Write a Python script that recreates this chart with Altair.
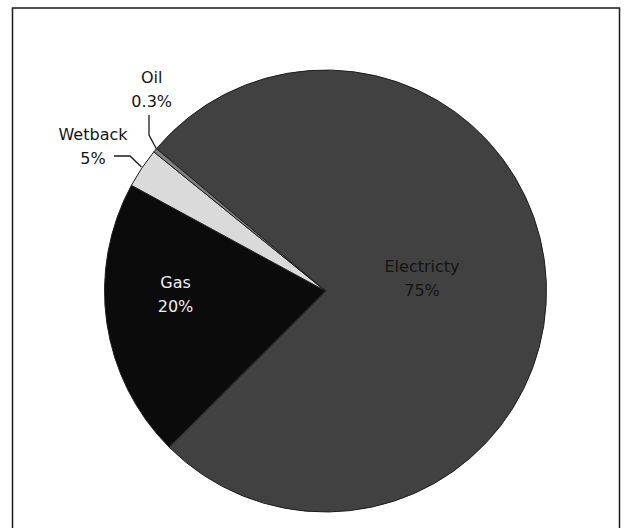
import math
import altair as alt
import pandas as pd

# ---- data ----
sources = ["Electricty", "Gas", "Wetback", "Oil"]
shares = [76.3, 20.4, 2.9, 0.3]          # slice sizes as drawn
share_labels = ["75%", "20%", "5%", "0.3%"]  # label text as printed
colors = ["#414141", "#0b0b0b", "#dadada", "#808080"]

pie = pd.DataFrame({
    "source": sources,
    "share": shares,
    "idx": list(range(len(sources))),
})

# ---- annotation layout (pixel positions of labels / leader lines) ----
label_x = [422, 175.5, 93, 151.7]
label_y = [267, 283, 135, 78]
label_col = ["#141414", "#eeeeee", "#141414", "#141414"]
labels = pd.DataFrame({
    "text": [f"{s}\n{p}" for s, p in zip(sources, share_labels)],
    "lx": label_x, "ly": label_y, "col": label_col,
})

leaders = pd.DataFrame({
    "name": ["Oil"] * 3 + ["Wetback"] * 3,
    "k": [0, 1, 2, 0, 1, 2],
    "px": [149, 149, 156.5, 114, 130, 141.5],
    "py": [115, 135, 149, 156, 156, 167],
})

CX, CY, R = 325.5, 291, 221
start = math.radians(-49.9)

frame = alt.Chart(pd.DataFrame({"a": [0]})).mark_rect(
    fillOpacity=0, stroke="#1a1a1a", strokeWidth=1.5
).encode(
    x=alt.value(12.5), x2=alt.value(619.5), y=alt.value(8), y2=alt.value(620)
)

arcs = alt.Chart(pie).mark_arc(
    outerRadius=R, stroke="#1e1e1e", strokeWidth=1
).encode(
    theta=alt.Theta("share:Q", stack=True,
                    scale=alt.Scale(range=[start, start + 2 * math.pi])),
    order=alt.Order("idx:Q"),
    color=alt.Color("source:N", scale=alt.Scale(domain=sources, range=colors),
                    legend=None),
    x=alt.value(CX), y=alt.value(CY),
)

texts = alt.Chart(labels).mark_text(
    font="DejaVu Sans", fontSize=16, lineHeight=24, align="center",
    baseline="middle", lineBreak="\n"
).encode(
    x=alt.X("lx:Q", scale=None), y=alt.Y("ly:Q", scale=None),
    text="text:N",
    color=alt.Color("col:N", scale=None),
)

lines = alt.Chart(leaders).mark_line(color="#1a1a1a", strokeWidth=1.3).encode(
    x=alt.X("px:Q", scale=None), y=alt.Y("py:Q", scale=None),
    detail="name:N", order="k:Q",
)

chart = alt.layer(frame, arcs, lines, texts).properties(
    width=632, height=528, autosize="none", padding=0,
    background="#ffffff",
).configure_view(stroke=None)

chart.save("out.html", embed_options={"renderer": "svg", "actions": False})
